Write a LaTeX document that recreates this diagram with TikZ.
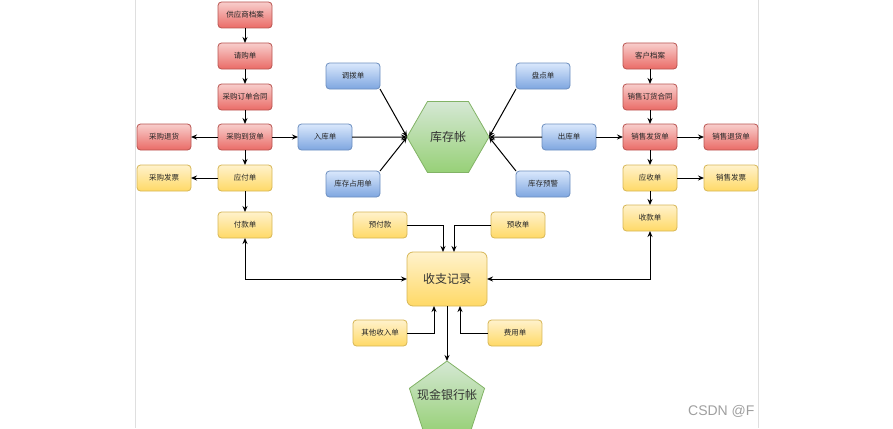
\documentclass[tikz,border=0pt]{standalone}
\usepackage{fontspec}
\newfontfamily\cjk{Noto Sans CJK SC}
\newfontfamily\wmfont{Liberation Sans}
\usetikzlibrary{shapes.geometric,arrows.meta}
\definecolor{rtop}{HTML}{F8CECC}\definecolor{rbot}{HTML}{EA6B66}\definecolor{rline}{HTML}{B85450}
\definecolor{btop}{HTML}{DAE8FC}\definecolor{bbot}{HTML}{7EA6E0}\definecolor{bline}{HTML}{6C8EBF}
\definecolor{ytop}{HTML}{FFF2CC}\definecolor{ybot}{HTML}{FFD966}\definecolor{yline}{HTML}{D6B656}
\definecolor{gtop}{HTML}{D5E8D4}\definecolor{gbot}{HTML}{97D077}\definecolor{gline}{HTML}{82B366}
\tikzset{
  box/.style={rectangle, rounded corners=3.5pt, minimum width=54pt, minimum height=26pt,
    inner sep=0pt, outer sep=0pt, line width=0.8pt, font=\cjk\fontsize{7.5}{8}\selectfont, text=black!85},
  redbox/.style={box, draw=rline, top color=rtop, bottom color=rbot},
  bluebox/.style={box, draw=bline, top color=btop, bottom color=bbot},
  yelbox/.style={box, draw=yline, top color=ytop, bottom color=ybot},
  bigtext/.style={font=\cjk\fontsize{12}{12}\selectfont, text=black!80},
  arr/.style={-{Stealth[length=6pt,width=5pt]}, line width=1pt, black},
  barr/.style={{Stealth[length=6pt,width=5pt]}-{Stealth[length=6pt,width=5pt]}, line width=1pt, black},
  frame/.style={draw=gray!25, line width=0.8pt}
}
\begin{document}
\begin{tikzpicture}[x=1pt,y=-1pt]
\useasboundingbox (0,0) rectangle (893,428);
\draw[frame] (135.5,0) -- (135.5,428);
\draw[frame] (758,0) -- (758,428);
% left column
\node[redbox] (gys) at (245,15) {供应商档案};
\node[redbox] (qg) at (245,56) {请购单};
\node[redbox] (cght) at (245,97) {采购订单合同};
\node[redbox] (cgdh) at (245,137) {采购到货单};
\node[redbox] (cgth) at (164,137) {采购退货};
\node[yelbox] (cgfp) at (164,178) {采购发票};
\node[yelbox] (yf) at (245,178) {应付单};
\node[yelbox] (fk) at (245,225) {付款单};
% center
\node[regular polygon, regular polygon sides=6, minimum size=82pt, inner sep=0pt, outer sep=0pt,
  draw=gline, line width=0.8pt, top color=gtop, bottom color=gbot, bigtext] (kc) at (448,137) {库存帐};
\node[bluebox] (db) at (353,76) {调拨单};
\node[bluebox] (rk) at (325,137) {入库单};
\node[bluebox] (zy) at (353,184) {库存占用单};
\node[bluebox] (pd) at (543,76) {盘点单};
\node[bluebox] (ck) at (569,137) {出库单};
\node[bluebox] (yj) at (543,184) {库存预警};
% right column
\node[redbox] (kh) at (650,56) {客户档案};
\node[redbox] (xsht) at (650,97) {销售订货合同};
\node[redbox] (xsfh) at (650,137) {销售发货单};
\node[redbox] (xsth) at (731,137) {销售退货单};
\node[yelbox] (ys) at (650,178) {应收单};
\node[yelbox] (xsfp) at (731,178) {销售发票};
\node[yelbox] (sk) at (650,218) {收款单};
% bottom
\node[yelbox] (yfk) at (380,225) {预付款};
\node[yelbox] (ysd) at (518,225) {预收单};
\node[box, draw=yline, top color=ytop, bottom color=ybot, minimum width=80pt, minimum height=54pt,
  rounded corners=6pt, bigtext] (sz) at (447,279) {收支记录};
\node[yelbox] (qt) at (380,333) {其他收入单};
\node[yelbox] (fy) at (515,333) {费用单};
\node[regular polygon, regular polygon sides=5, minimum size=79pt, inner sep=0pt, outer sep=0pt,
  draw=gline, line width=0.8pt, top color=gtop, bottom color=gbot] (xj) at (447,400.5) {};
\node[bigtext] (xjt) at (447,395) {现金银行帐};
\node[anchor=east, text=gray!75, font=\wmfont\fontsize{14}{14}\selectfont] (wm) at (758,411) {CSDN @F};
% connectors left
\draw[arr] (gys) -- (qg);
\draw[arr] (qg) -- (cght);
\draw[arr] (cght) -- (cgdh);
\draw[arr] (cgdh) -- (cgth);
\draw[arr] (cgdh) -- (rk);
\draw[arr] (cgdh) -- (yf);
\draw[arr] (yf) -- (cgfp);
\draw[arr] (yf) -- (fk);
\draw[barr] (fk.south) |- (sz.west);
% inventory
\draw[arr] (rk) -- (kc.west);
\draw[arr] (db.south east) -- (kc.west);
\draw[arr] (zy.north east) -- (kc.west);
\draw[arr] (pd.south west) -- (kc.east);
\draw[arr] (ck) -- (kc.east);
\draw[arr] (yj.north west) -- (kc.east);
\draw[arr] (ck) -- (xsfh);
% right
\draw[arr] (kh) -- (xsht);
\draw[arr] (xsht) -- (xsfh);
\draw[arr] (xsfh) -- (xsth);
\draw[arr] (xsfh) -- (ys);
\draw[arr] (ys) -- (xsfp);
\draw[arr] (ys) -- (sk);
\draw[barr] (sk.south) |- (sz.east);
% money
\draw[arr] (yfk.east) -| ([xshift=-4pt]sz.north);
\draw[arr] (ysd.west) -| ([xshift=7pt]sz.north);
\draw[arr] (qt.east) -| ([xshift=-13pt]sz.south);
\draw[arr] (fy.west) -| ([xshift=13pt]sz.south);
\draw[arr] (sz.south) -- (xj.north);
\end{tikzpicture}
\end{document}
